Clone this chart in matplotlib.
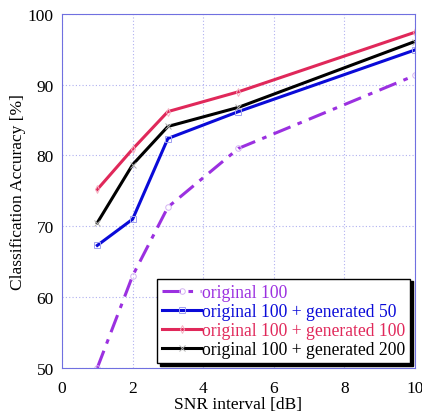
import numpy as np
import matplotlib
matplotlib.use("Agg")
import matplotlib.pyplot as plt

plt.rcParams['font.family'] = ['Liberation Serif', 'DejaVu Serif']
plt.rcParams['mathtext.fontset'] = 'stix'

snr = [1, 2, 3, 5, 10]
acc_orig = [50.0, 63.0, 72.7, 81.0, 91.3]
acc_gen50 = [67.3, 71.0, 82.4, 86.2, 94.9]
acc_gen100 = [75.2, 80.9, 86.2, 89.0, 97.4]
acc_gen200 = [70.5, 78.7, 84.1, 86.8, 96.1]

labels = ['original 100',
          'original 100 + generated 50',
          'original 100 + generated 100',
          'original 100 + generated 200']
colors = ['#9b30e0', '#0a0ad8', '#e0285a', '#000000']

fig = plt.figure(figsize=(4.22, 4.14), dpi=100)
ax = fig.add_axes([0.147, 0.109, 0.836, 0.855])

# faint hollow markers on top of thick lines
ax.plot(snr, acc_orig, color=colors[0], lw=2.2, ls=(0, (6, 2.5, 1.5, 2.5)),
        marker='o', ms=4, mfc='none', mec='#d4b4f2', mew=0.7, label=labels[0])
ax.plot(snr, acc_gen50, color=colors[1], lw=2.2,
        marker='s', ms=4, mfc='none', mec='#a0a0f0', mew=0.7, label=labels[1])
ax.plot(snr, acc_gen100, color=colors[2], lw=2.2,
        marker='d', ms=4, mfc='none', mec='#f4b0c2', mew=0.7, label=labels[2])
ax.plot(snr, acc_gen200, color=colors[3], lw=2.2,
        marker='x', ms=4, mec='#b0b0b0', mew=0.7, label=labels[3])

ax.set_xlim(0, 10)
ax.set_ylim(50, 100)
ax.set_xticks([0, 2, 4, 6, 8, 10])
ax.set_yticks([50, 60, 70, 80, 90, 100])
ax.tick_params(labelsize=12.5, length=0)
ax.tick_params(axis='x', pad=9)
ax.tick_params(axis='y', pad=6)
ax.grid(True, color='#b0b0f0', ls=(0, (1, 2)), lw=0.8)
for s in ax.spines.values():
    s.set_color('#7070e0')
    s.set_linewidth(0.8)

ax.set_xlabel('SNR interval [dB]', fontsize=12.5, labelpad=0)
ax.set_ylabel('Classification Accuracy [%]', fontsize=12.5, labelpad=1)

leg = ax.legend(loc='lower right', fontsize=12.7, frameon=True, fancybox=False,
                shadow={'color': 'black', 'alpha': 1}, borderpad=0.3,
                handlelength=2.2, handletextpad=0.05, labelspacing=0.12,
                borderaxespad=0.25)
leg.get_frame().set_edgecolor('black')
leg.get_frame().set_linewidth(1.0)
leg.get_frame().set_alpha(1)
for txt, c in zip(leg.get_texts(), colors):
    txt.set_color(c)

fig.savefig('out.png', dpi=100)
